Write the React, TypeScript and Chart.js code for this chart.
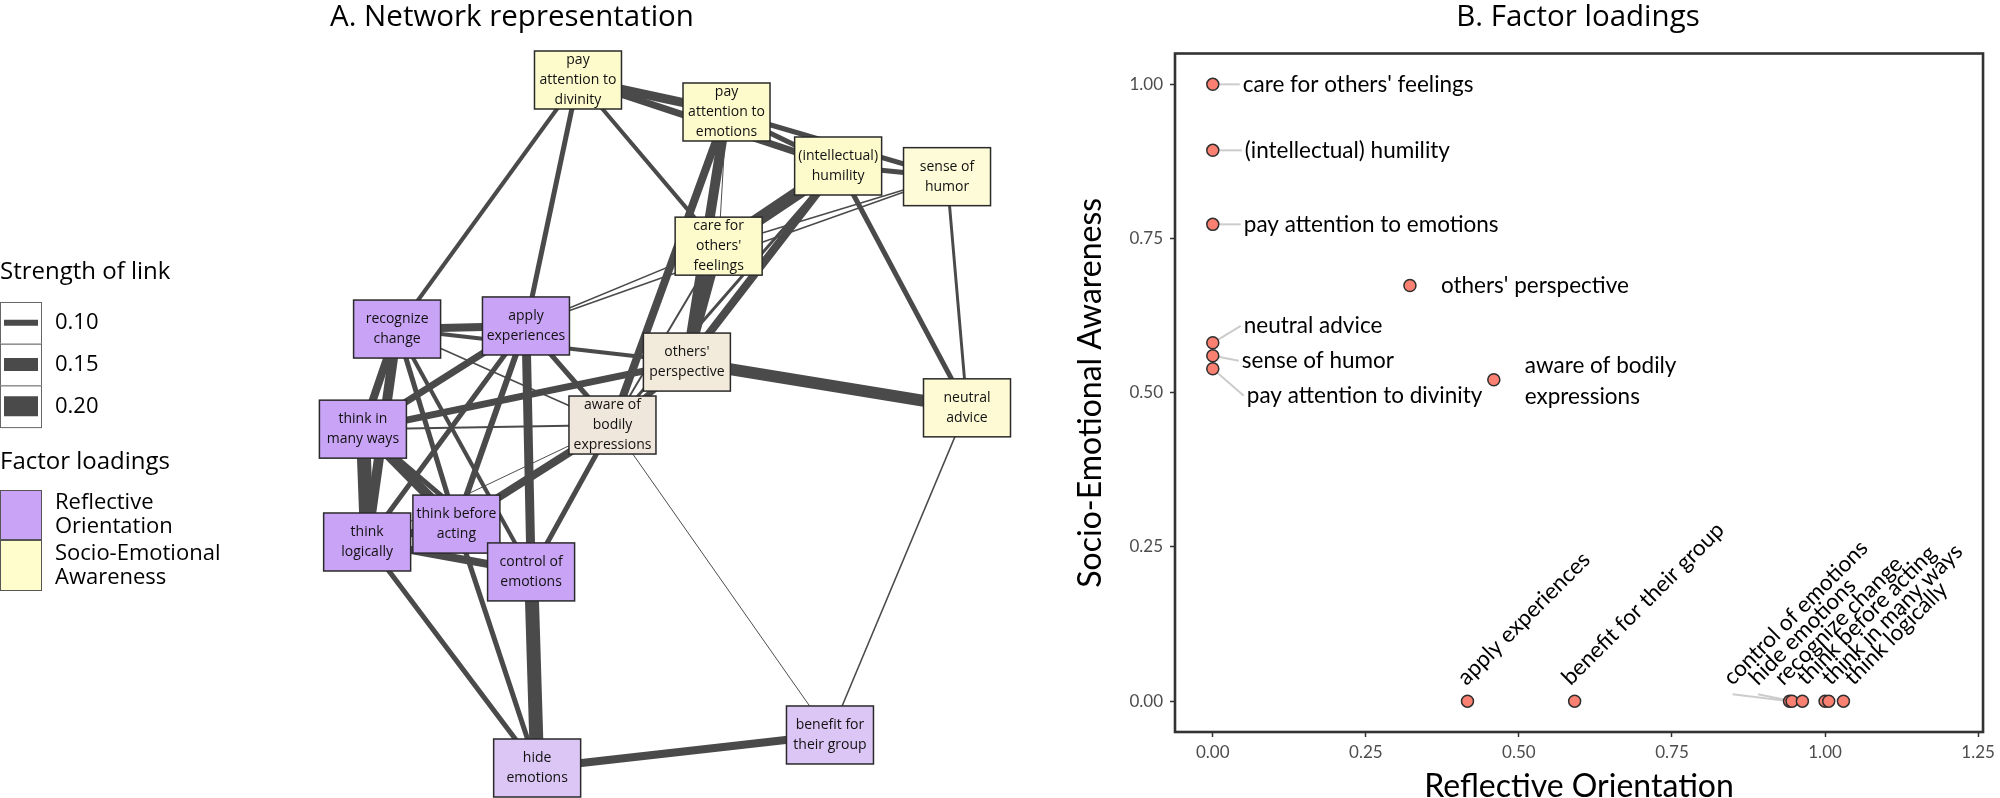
import React, { useEffect, useRef } from "react";
import { Chart, registerables } from "chart.js";

Chart.register(...registerables);

// ================= A. Network representation =================
const nodeIds = ["D", "PE", "H", "SH", "CF", "RC", "AE", "OP", "NA", "TM", "AB", "TL", "TB", "CE", "HE", "BG"];
const nodeLabels = [
  "pay\nattention to\ndivinity",
  "pay\nattention to\nemotions",
  "(intellectual)\nhumility",
  "sense of\nhumor",
  "care for\nothers'\nfeelings",
  "recognize\nchange",
  "apply\nexperiences",
  "others'\nperspective",
  "neutral\nadvice",
  "think in\nmany ways",
  "aware of\nbodily\nexpressions",
  "think\nlogically",
  "think before\nacting",
  "control of\nemotions",
  "hide\nemotions",
  "benefit for\ntheir group",
];
// network layout coordinates (-1..1)
const nodeLayoutX = [-0.286, 0.205, 0.574, 0.934, 0.179, -0.884, -0.458, 0.074, 1.0, -0.997, -0.172, -0.983, -0.688, -0.441, -0.421, 0.547];
const nodeLayoutY = [1.0, 0.907, 0.75, 0.719, 0.517, 0.276, 0.285, 0.18, 0.047, -0.015, -0.003, -0.343, -0.291, -0.43, -1.0, -0.904];

// edges (partial correlations)
const edgeFrom = ["D", "D", "PE", "PE", "H", "D", "D", "D", "PE", "PE", "PE", "H", "H", "H", "SH", "CF", "AE", "AE", "CF", "CF", "OP", "TM", "RC", "RC", "RC", "RC", "RC", "TM", "RC", "RC", "AE", "AE", "AE", "AE", "AE", "TM", "TM", "TM", "TB", "TL", "CE", "TL", "TL", "TL", "TB", "CE", "HE", "NA", "AB", "OP", "H"];
const edgeTo = ["PE", "H", "H", "SH", "SH", "RC", "AE", "CF", "CF", "AB", "OP", "CF", "OP", "NA", "NA", "SH", "SH", "CF", "OP", "AB", "NA", "OP", "OP", "AE", "AB", "TM", "TL", "TL", "TB", "CE", "TM", "TL", "TB", "CE", "AB", "AB", "TB", "CE", "AB", "AB", "AB", "TB", "CE", "HE", "HE", "HE", "BG", "BG", "BG", "AB", "AB"];
const edgeWeight = [0.121, 0.107, 0.093, 0.093, 0.093, 0.086, 0.093, 0.086, 0.064, 0.114, 0.128, 0.15, 0.114, 0.093, 0.078, 0.068, 0.068, 0.068, 0.128, 0.071, 0.143, 0.107, 0.086, 0.114, 0.068, 0.114, 0.128, 0.157, 0.093, 0.086, 0.107, 0.093, 0.1, 0.121, 0.093, 0.071, 0.128, 0.093, 0.114, 0.064, 0.093, 0.114, 0.114, 0.093, 0.093, 0.157, 0.114, 0.068, 0.064, 0.1, 0.078];

const linkLegendValues = [0.1, 0.15, 0.2];
const factorLegendLabels = ["Reflective\nOrientation", "Socio-Emotional\nAwareness"];

// ================= B. Factor loadings =================
const itemNames = [
  "care for others' feelings",
  "(intellectual) humility",
  "pay attention to emotions",
  "others' perspective",
  "neutral advice",
  "sense of humor",
  "pay attention to divinity",
  "aware of bodily expressions",
  "apply experiences",
  "benefit for their group",
  "control of emotions",
  "hide emotions",
  "recognize change",
  "think before acting",
  "think in many ways",
  "think logically",
];
const reflectiveLoading = [0, 0, 0, 0.322, 0, 0, 0, 0.459, 0.416, 0.591, 0.942, 0.946, 0.963, 1.0, 1.006, 1.03];
const socioEmotionalLoading = [1.0, 0.893, 0.773, 0.674, 0.581, 0.56, 0.539, 0.521, 0, 0, 0, 0, 0, 0, 0, 0];
const xTickValues = [0, 0.25, 0.5, 0.75, 1.0, 1.25];
const yTickValues = [0, 0.25, 0.5, 0.75, 1.0];

// ---------------- styles / layout ----------------
const EDGE_COLOR = "#4a4a4a";
const C_REFLECT = "#C9A3F6";
const C_REFLECT_LIGHT = "#DCC6F5";
const C_SOCIO = "#FDFBCC";
const C_MIXED = "#F2EADB";
const nodeFill = [C_SOCIO, C_SOCIO, C_SOCIO, "#FEFBD8", C_SOCIO, C_REFLECT, C_REFLECT, C_MIXED, "#FDFAD4", C_REFLECT, "#EFE6DC", C_REFLECT, C_REFLECT, C_REFLECT, C_REFLECT_LIGHT, C_REFLECT_LIGHT];
const factorLegendColors = [C_REFLECT, "#FFFDCC"];
const NODE_W = 87;
const NODE_H = 58;
const TITLE_FONT = '29.5px "Open Sans"';
const LABEL_FONT = "22.5px Lato";
const linkWidth = (w: number) => Math.max(0.8, 140 * (w - 0.057));

// label placement for panel B (pixel nudges, like ggrepel output)
const labelLayout = [
  { dx: 30, dy: 0, angle: 0, seg: true },
  { dx: 32, dy: 0, angle: 0, seg: true },
  { dx: 31, dy: 0, angle: 0, seg: true },
  { dx: 31, dy: 0, angle: 0, seg: false },
  { dx: 31, dy: -17, angle: 0, seg: true },
  { dx: 29, dy: 5, angle: 0, seg: true },
  { dx: 34, dy: 27, angle: 0, seg: true },
  { dx: 31, dy: 1, angle: 0, seg: false },
  { dx: -1, dy: -15, angle: 45, seg: false },
  { dx: -4, dy: -15, angle: 45, seg: false },
  { dx: -57, dy: -15, angle: 45, seg: true },
  { dx: -34, dy: -15, angle: 45, seg: true },
  { dx: -19, dy: -15, angle: 45, seg: false },
  { dx: -19, dy: -15, angle: 45, seg: false },
  { dx: 2, dy: -15, angle: 45, seg: false },
  { dx: 10, dy: -15, angle: 45, seg: false },
];
const itemLabelText = itemNames.map((n) => (n === "aware of bodily expressions" ? "aware of bodily\nexpressions" : n));

const networkPlugin = {
  id: "networkDecor",
  afterDatasetsDraw(chart: any) {
    const ctx = chart.ctx as CanvasRenderingContext2D;
    const meta = chart.getDatasetMeta(chart.data.datasets.length - 1);
    ctx.save();
    meta.data.forEach((pt: any, i: number) => {
      const x = pt.x;
      const y = pt.y;
      ctx.fillStyle = nodeFill[i];
      ctx.fillRect(x - NODE_W / 2, y - NODE_H / 2, NODE_W, NODE_H);
      ctx.lineWidth = 1.5;
      ctx.strokeStyle = "#2a2a2a";
      ctx.strokeRect(x - NODE_W / 2, y - NODE_H / 2, NODE_W, NODE_H);
      const lines = nodeLabels[i].split("\n");
      ctx.font = '14px "Open Sans"';
      ctx.fillStyle = "#111";
      ctx.textAlign = "center";
      ctx.textBaseline = "middle";
      lines.forEach((ln, k) => ctx.fillText(ln, x, y + (k - (lines.length - 1) / 2) * 20));
    });
    ctx.restore();
  },
  afterDraw(chart: any) {
    const ctx = chart.ctx as CanvasRenderingContext2D;
    ctx.save();
    // panel title
    ctx.fillStyle = "#000";
    ctx.font = TITLE_FONT;
    ctx.textAlign = "center";
    ctx.textBaseline = "alphabetic";
    ctx.fillText("A. Network representation", 512, 26);
    // legend: strength of link
    ctx.textAlign = "left";
    ctx.textBaseline = "middle";
    ctx.font = '24px "Open Sans"';
    ctx.fillText("Strength of link", 0, 272);
    const boxH = 41.7;
    linkLegendValues.forEach((v, k) => {
      const top = 302 + k * boxH;
      ctx.fillStyle = "#fff";
      ctx.fillRect(0, top, 42, boxH);
      ctx.strokeStyle = "#666";
      ctx.lineWidth = 1;
      ctx.strokeRect(0.5, top + 0.5, 41, boxH);
      ctx.strokeStyle = EDGE_COLOR;
      ctx.lineWidth = linkWidth(v);
      ctx.lineCap = "butt";
      ctx.beginPath();
      ctx.moveTo(4, top + boxH / 2);
      ctx.lineTo(38, top + boxH / 2);
      ctx.stroke();
      ctx.fillStyle = "#000";
      ctx.font = '22px "Open Sans"';
      ctx.fillText(v.toFixed(2), 55, top + boxH / 2);
    });
    // legend: factor loadings
    ctx.font = '24px "Open Sans"';
    ctx.fillStyle = "#000";
    ctx.fillText("Factor loadings", 0, 462);
    const fTops = [490, 540];
    const fH = [50, 51];
    factorLegendLabels.forEach((lab, k) => {
      ctx.fillStyle = factorLegendColors[k];
      ctx.fillRect(0, fTops[k], 42, fH[k]);
      ctx.strokeStyle = "#555";
      ctx.lineWidth = 1;
      ctx.strokeRect(0.5, fTops[k] + 0.5, 41, fH[k] - 1);
      ctx.fillStyle = "#000";
      ctx.font = '22px "Open Sans"';
      const lines = lab.split("\n");
      const c = fTops[k] + fH[k] / 2;
      lines.forEach((ln, j) => ctx.fillText(ln, 55, c + (j - (lines.length - 1) / 2) * 24));
    });
    ctx.restore();
  },
};

const factorPlugin = {
  id: "factorDecor",
  beforeDatasetsDraw(chart: any) {
    const ctx = chart.ctx as CanvasRenderingContext2D;
    const meta = chart.getDatasetMeta(0);
    ctx.save();
    ctx.strokeStyle = "#cccccc";
    ctx.lineWidth = 2;
    meta.data.forEach((pt: any, i: number) => {
      const L = labelLayout[i];
      if (!L.seg) return;
      const ax = pt.x + L.dx;
      const ay = pt.y + L.dy;
      const ex = L.angle ? ax : ax - 3;
      const ey = L.angle ? ay + 8 : ay;
      ctx.beginPath();
      ctx.moveTo(pt.x, pt.y);
      ctx.lineTo(ex, ey);
      ctx.stroke();
    });
    ctx.restore();
  },
  afterDatasetsDraw(chart: any) {
    const ctx = chart.ctx as CanvasRenderingContext2D;
    const meta = chart.getDatasetMeta(0);
    const area = chart.chartArea;
    ctx.save();
    // panel border
    ctx.strokeStyle = "#333";
    ctx.lineWidth = 2.6;
    ctx.strokeRect(area.left, area.top, area.right - area.left, area.bottom - area.top);
    // labels
    ctx.fillStyle = "#000";
    ctx.font = LABEL_FONT;
    meta.data.forEach((pt: any, i: number) => {
      const L = labelLayout[i];
      const ax = pt.x + L.dx;
      const ay = pt.y + L.dy;
      if (L.angle) {
        ctx.save();
        ctx.translate(ax, ay);
        ctx.rotate((-L.angle * Math.PI) / 180);
        ctx.textAlign = "left";
        ctx.textBaseline = "alphabetic";
        ctx.fillText(itemLabelText[i], 0, 0);
        ctx.restore();
      } else {
        ctx.textAlign = "left";
        ctx.textBaseline = "middle";
        const lines = itemLabelText[i].split("\n");
        lines.forEach((ln, k) => ctx.fillText(ln, ax, ay + (k - (lines.length - 1) / 2) * 31));
      }
    });
    ctx.restore();
  },
  afterDraw(chart: any) {
    const ctx = chart.ctx as CanvasRenderingContext2D;
    ctx.save();
    ctx.fillStyle = "#000";
    ctx.font = TITLE_FONT;
    ctx.textAlign = "center";
    ctx.textBaseline = "alphabetic";
    ctx.fillText("B. Factor loadings", 1578 - 1050, 26);
    ctx.restore();
  },
};

export default function App() {
  const netRef = useRef<HTMLCanvasElement>(null);
  const facRef = useRef<HTMLCanvasElement>(null);

  useEffect(() => {
    document.body.style.margin = "0";
    const idx: Record<string, number> = {};
    nodeIds.forEach((id, i) => (idx[id] = i));
    const order = edgeWeight.map((_, i) => i).sort((a, b) => edgeWeight[a] - edgeWeight[b]);
    const edgeDatasets = order.map((i) => ({
      data: [
        { x: nodeLayoutX[idx[edgeFrom[i]]], y: nodeLayoutY[idx[edgeFrom[i]]] },
        { x: nodeLayoutX[idx[edgeTo[i]]], y: nodeLayoutY[idx[edgeTo[i]]] },
      ],
      showLine: true,
      borderColor: EDGE_COLOR,
      borderWidth: linkWidth(edgeWeight[i]),
      borderCapStyle: "butt",
      pointRadius: 0,
      pointHoverRadius: 0,
      clip: false as any,
    }));
    const nodeDataset = {
      data: nodeLayoutX.map((x, i) => ({ x, y: nodeLayoutY[i] })),
      showLine: false,
      pointRadius: 0,
      pointHoverRadius: 0,
      clip: false as any,
    };

    const net = new Chart(netRef.current!, {
      type: "scatter",
      data: { datasets: [...edgeDatasets, nodeDataset] as any },
      options: {
        animation: false,
        responsive: false,
        events: [],
        layout: { padding: { left: 362, right: 83, top: 80, bottom: 30 }, autoPadding: false } as any,
        plugins: { legend: { display: false }, tooltip: { enabled: false } },
        scales: {
          x: { type: "linear", min: -1, max: 1, display: false },
          y: { type: "linear", min: -1, max: 1, display: false },
        },
      },
      plugins: [networkPlugin],
    });

    const fac = new Chart(facRef.current!, {
      type: "scatter",
      data: {
        datasets: [
          {
            data: itemNames.map((_, i) => ({ x: reflectiveLoading[i], y: socioEmotionalLoading[i] })),
            pointRadius: 6,
            pointHoverRadius: 6,
            pointBackgroundColor: "#FA8072",
            pointBorderColor: "#2e2e2e",
            pointBorderWidth: 1.5,
            clip: false as any,
          },
        ],
      },
      options: {
        animation: false,
        responsive: false,
        events: [],
        layout: { padding: { left: 0, right: 12, top: 53.5, bottom: 0 }, autoPadding: false } as any,
        plugins: { legend: { display: false }, tooltip: { enabled: false } },
        scales: {
          x: {
            type: "linear",
            min: -0.0617,
            max: 1.258,
            afterBuildTicks: (s: any) => {
              s.ticks = xTickValues.map((v) => ({ value: v }));
            },
            afterFit: (s: any) => {
              s.height = 66;
            },
            grid: { drawOnChartArea: false, drawTicks: true, tickLength: 5, tickColor: "#333", tickWidth: 1.5 },
            border: { display: false },
            ticks: {
              padding: 5,
              maxRotation: 0,
              minRotation: 0,
              autoSkip: false,
              color: "#4D4D4D",
              font: { family: "Lato", size: 17 },
              callback: (v: any) => Number(v).toFixed(2),
            },
            title: {
              display: true,
              text: "Reflective Orientation",
              color: "#000",
              font: { family: "Lato", size: 32, lineHeight: 1 },
              padding: { top: 0, bottom: -5 },
            },
          },
          y: {
            type: "linear",
            min: -0.05,
            max: 1.05,
            afterBuildTicks: (s: any) => {
              s.ticks = yTickValues.map((v) => ({ value: v }));
            },
            afterFit: (s: any) => {
              s.width = 125;
            },
            grid: { drawOnChartArea: false, drawTicks: true, tickLength: 5, tickColor: "#333", tickWidth: 1.5 },
            border: { display: false },
            ticks: {
              padding: 7,
              autoSkip: false,
              color: "#4D4D4D",
              font: { family: "Lato", size: 17 },
              callback: (v: any) => Number(v).toFixed(2),
            },
            title: {
              display: true,
              text: "Socio-Emotional Awareness",
              color: "#000",
              font: { family: "Lato", size: 32, lineHeight: 1 },
              padding: { top: 25, bottom: 0 },
            },
          },
        },
      },
      plugins: [factorPlugin],
    });

    return () => {
      net.destroy();
      fac.destroy();
    };
  }, []);

  return (
    <div style={{ position: "relative", width: 2000, height: 798, overflow: "hidden", background: "#fff" }}>
      <canvas ref={netRef} width={1050} height={798} style={{ position: "absolute", left: 0, top: 0 }} />
      <canvas ref={facRef} width={950} height={798} style={{ position: "absolute", left: 1050, top: 0 }} />
    </div>
  );
}
